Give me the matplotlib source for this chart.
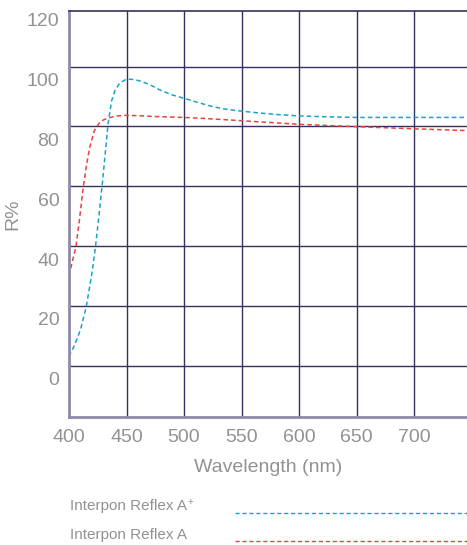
import matplotlib.pyplot as plt
from matplotlib.lines import Line2D

# reflectance curves
wl_aplus = [400, 405, 410, 415, 420, 423, 426, 429, 432, 434, 437, 440, 444, 450,
            456, 462, 470, 480, 490, 500, 512, 525, 537, 550, 565, 580, 600, 625,
            650, 700, 746]
r_aplus = [3, 7, 12, 19.7, 31, 39.7, 50, 61, 73, 81, 88.5, 92, 94.5, 95.8,
           95.7, 95.2, 94, 92, 90.5, 89.4, 88, 86.6, 85.7, 85.1, 84.5, 84, 83.5, 83.2,
           83, 83, 83]

wl_a = [400, 403, 406, 409, 412, 415, 418, 422, 426, 430, 436, 442, 450, 460,
        475, 500, 525, 550, 575, 600, 625, 650, 700, 746]
r_a = [30, 35, 39.7, 48.5, 58.5, 66.5, 73, 78.5, 81, 82.2, 83, 83.5, 83.7, 83.6,
       83.3, 83, 82.5, 81.9, 81.3, 80.7, 80.3, 79.9, 79.2, 78.6]

x_ticks = [400, 450, 500, 550, 600, 650, 700]
y_ticks = [0, 20, 40, 60, 80, 100, 120]
names = ['Interpon Reflex A', 'Interpon Reflex A']

blue = '#1ba3c6'
red = '#e8443c'
grid_c = '#35305f'
spine_c = '#8d8aa8'
txt_c = '#929292'

plt.rcParams['font.family'] = ['Liberation Sans', 'DejaVu Sans']

fig = plt.figure(figsize=(4.67, 5.45), dpi=100)
ax = fig.add_axes([69 / 467, 1 - 416.7 / 545, 1 - 69 / 467, (416.7 - 11) / 545])

ax.plot(wl_aplus, r_aplus, color=blue, lw=1.1, dashes=(3, 2))
ax.plot(wl_a, r_a, color=red, lw=1.1, dashes=(3, 2))

for x in x_ticks[1:]:
    ax.axvline(x, color=grid_c, lw=1.0, zorder=0)
for y in y_ticks:
    ax.axhline(y, color=grid_c, lw=1.0, zorder=0)

ax.set_xlim(400, 746)
ax.set_ylim(-17.1, 118.6)

ax.set_xticks(x_ticks)
ax.set_xticklabels([str(v) for v in x_ticks])
# labels sit a bit below their grid line in the original
ax.set_yticks([v - 4.4 for v in y_ticks])
ax.set_yticklabels([str(v) for v in y_ticks])
ax.tick_params(length=0, labelsize=14, labelcolor=txt_c)
ax.tick_params(axis='x', pad=9)
ax.tick_params(axis='y', pad=7)

for s in ['left', 'bottom']:
    ax.spines[s].set_color(spine_c)
    ax.spines[s].set_linewidth(2)
ax.spines['top'].set_color(grid_c)
ax.spines['top'].set_linewidth(1.2)
ax.spines['right'].set_visible(False)

ax.set_xlabel('Wavelength (nm)', fontsize=14, color=txt_c, labelpad=9)
ax.set_ylabel('R%', fontsize=14, color=txt_c, labelpad=4)

# legend rows under the axes
for i, (name, c) in enumerate(zip(names, [blue, red])):
    ty = 1 - (506 + 29 * i) / 545
    ly = 1 - (513 + 28 * i) / 545
    t = fig.text(70 / 467, ty, name, fontsize=11, color=txt_c, va='center', ha='left')
    if i == 0:
        # small superscript plus after the first name
        fig.canvas.draw()
        bb = t.get_window_extent()
        fig.text(bb.x1 / fig.bbox.width + 0.002, ty + 0.007, '+', fontsize=7,
                 color=txt_c, va='center', ha='left')
    fig.add_artist(Line2D([235 / 467, 1], [ly, ly], transform=fig.transFigure,
                          color=c, lw=1, dashes=(3, 2)))

fig.savefig('out.png', dpi=100)
